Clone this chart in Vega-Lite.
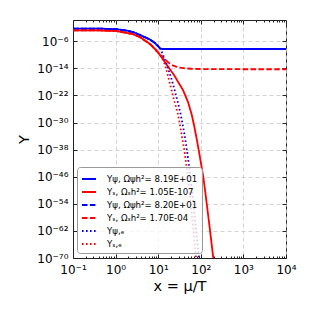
{
 "$schema": "https://vega.github.io/schema/vega-lite/v6.json",
 "width": 213,
 "height": 238,
 "autosize": {"type": "none"},
 "padding": {"left": 73, "top": 20, "right": 29, "bottom": 57},
 "background": "white",
 "config": {
  "view": {"stroke": "#222222", "strokeWidth": 1},
  "font": "DejaVu Sans",
  "axis": {"labelFont": "DejaVu Sans", "labelFontSize": 12, "labelColor": "#000000", "titleFont": "DejaVu Sans", "titleFontSize": 14.5, "titleFontWeight": "normal", "titleColor": "#000000", "tickColor": "#222222", "domainColor": "#222222", "gridColor": "#c8c8c8", "gridDash": [4, 3], "gridWidth": 0.8}
 },
 "data": {"values": [
  {"s": "Yψ, Ωψh²= 8.19E+01", "x": 0.1, "y": 6.03e-3},
  {"s": "Yψ, Ωψh²= 8.19E+01", "x": 0.4305, "y": 5.75e-3},
  {"s": "Yψ, Ωψh²= 8.19E+01", "x": 1.021, "y": 3.8e-3},
  {"s": "Yψ, Ωψh²= 8.19E+01", "x": 1.663, "y": 1.78e-3},
  {"s": "Yψ, Ωψh²= 8.19E+01", "x": 2.559, "y": 5.62e-4},
  {"s": "Yψ, Ωψh²= 8.19E+01", "x": 3.741, "y": 7.24e-5},
  {"s": "Yψ, Ωψh²= 8.19E+01", "x": 6.427, "y": 3.39e-6},
  {"s": "Yψ, Ωψh²= 8.19E+01", "x": 8.41, "y": 3.16e-7},
  {"s": "Yψ, Ωψh²= 8.19E+01", "x": 11.02, "y": 8.51e-9},
  {"s": "Yψ, Ωψh²= 8.19E+01", "x": 12.27, "y": 5.37e-9},
  {"s": "Yψ, Ωψh²= 8.19E+01", "x": 100, "y": 5.37e-9},
  {"s": "Yψ, Ωψh²= 8.19E+01", "x": 1000, "y": 5.37e-9},
  {"s": "Yψ, Ωψh²= 8.19E+01", "x": 10000, "y": 5.37e-9},

  {"s": "Yₛ, Ωₛh²= 1.05E-107", "x": 0.1, "y": 1.78e-3},
  {"s": "Yₛ, Ωₛh²= 1.05E-107", "x": 0.4305, "y": 1.66e-3},
  {"s": "Yₛ, Ωₛh²= 1.05E-107", "x": 1.021, "y": 1.12e-3},
  {"s": "Yₛ, Ωₛh²= 1.05E-107", "x": 1.663, "y": 3.98e-4},
  {"s": "Yₛ, Ωₛh²= 1.05E-107", "x": 2.559, "y": 1.26e-4},
  {"s": "Yₛ, Ωₛh²= 1.05E-107", "x": 3.741, "y": 1.78e-5},
  {"s": "Yₛ, Ωₛh²= 1.05E-107", "x": 6.427, "y": 1.58e-7},
  {"s": "Yₛ, Ωₛh²= 1.05E-107", "x": 8.87, "y": 2.82e-9},
  {"s": "Yₛ, Ωₛh²= 1.05E-107", "x": 11.02, "y": 8.91e-11},
  {"s": "Yₛ, Ωₛh²= 1.05E-107", "x": 15.24, "y": 2.51e-13},
  {"s": "Yₛ, Ωₛh²= 1.05E-107", "x": 23.5, "y": 1.1e-16},
  {"s": "Yₛ, Ωₛh²= 1.05E-107", "x": 38.19, "y": 4.07e-21},
  {"s": "Yₛ, Ωₛh²= 1.05E-107", "x": 50.12, "y": 1.17e-24},
  {"s": "Yₛ, Ωₛh²= 1.05E-107", "x": 61.09, "y": 2.51e-28},
  {"s": "Yₛ, Ωₛh²= 1.05E-107", "x": 69.18, "y": 2.0e-31},
  {"s": "Yₛ, Ωₛh²= 1.05E-107", "x": 81.47, "y": 5.0e-36},
  {"s": "Yₛ, Ωₛh²= 1.05E-107", "x": 95.72, "y": 5.0e-41},
  {"s": "Yₛ, Ωₛh²= 1.05E-107", "x": 115.6, "y": 3.98e-47},
  {"s": "Yₛ, Ωₛh²= 1.05E-107", "x": 137.4, "y": 1.58e-54},
  {"s": "Yₛ, Ωₛh²= 1.05E-107", "x": 164.4, "y": 1.58e-62},
  {"s": "Yₛ, Ωₛh²= 1.05E-107", "x": 196.3, "y": 1e-70},
  {"s": "Yₛ, Ωₛh²= 1.05E-107", "x": 215.3, "y": 2.51e-74},

  {"s": "Yψ, Ωψh²= 8.20E+01", "x": 0.1, "y": 6.03e-3},
  {"s": "Yψ, Ωψh²= 8.20E+01", "x": 0.4305, "y": 5.75e-3},
  {"s": "Yψ, Ωψh²= 8.20E+01", "x": 1.021, "y": 3.8e-3},
  {"s": "Yψ, Ωψh²= 8.20E+01", "x": 1.663, "y": 1.78e-3},
  {"s": "Yψ, Ωψh²= 8.20E+01", "x": 2.559, "y": 5.62e-4},
  {"s": "Yψ, Ωψh²= 8.20E+01", "x": 3.741, "y": 7.24e-5},
  {"s": "Yψ, Ωψh²= 8.20E+01", "x": 6.427, "y": 3.39e-6},
  {"s": "Yψ, Ωψh²= 8.20E+01", "x": 8.41, "y": 3.16e-7},
  {"s": "Yψ, Ωψh²= 8.20E+01", "x": 11.02, "y": 8.51e-9},
  {"s": "Yψ, Ωψh²= 8.20E+01", "x": 12.27, "y": 5.38e-9},
  {"s": "Yψ, Ωψh²= 8.20E+01", "x": 100, "y": 5.38e-9},
  {"s": "Yψ, Ωψh²= 8.20E+01", "x": 1000, "y": 5.38e-9},
  {"s": "Yψ, Ωψh²= 8.20E+01", "x": 10000, "y": 5.38e-9},

  {"s": "Yₛ, Ωₛh²= 1.70E-04", "x": 0.1, "y": 1.78e-3},
  {"s": "Yₛ, Ωₛh²= 1.70E-04", "x": 0.4305, "y": 1.66e-3},
  {"s": "Yₛ, Ωₛh²= 1.70E-04", "x": 1.021, "y": 1.12e-3},
  {"s": "Yₛ, Ωₛh²= 1.70E-04", "x": 1.663, "y": 3.98e-4},
  {"s": "Yₛ, Ωₛh²= 1.70E-04", "x": 2.559, "y": 1.26e-4},
  {"s": "Yₛ, Ωₛh²= 1.70E-04", "x": 3.741, "y": 1.78e-5},
  {"s": "Yₛ, Ωₛh²= 1.70E-04", "x": 6.427, "y": 1.58e-7},
  {"s": "Yₛ, Ωₛh²= 1.70E-04", "x": 8.87, "y": 2.82e-9},
  {"s": "Yₛ, Ωₛh²= 1.70E-04", "x": 11.02, "y": 8.91e-11},
  {"s": "Yₛ, Ωₛh²= 1.70E-04", "x": 12.5, "y": 2.0e-11},
  {"s": "Yₛ, Ωₛh²= 1.70E-04", "x": 14.45, "y": 5.0e-12},
  {"s": "Yₛ, Ωₛh²= 1.70E-04", "x": 16.5, "y": 1e-12},
  {"s": "Yₛ, Ωₛh²= 1.70E-04", "x": 18.92, "y": 2.51e-13},
  {"s": "Yₛ, Ωₛh²= 1.70E-04", "x": 22, "y": 7.94e-14},
  {"s": "Yₛ, Ωₛh²= 1.70E-04", "x": 26.18, "y": 3.63e-14},
  {"s": "Yₛ, Ωₛh²= 1.70E-04", "x": 33, "y": 1.78e-14},
  {"s": "Yₛ, Ωₛh²= 1.70E-04", "x": 42.6, "y": 1.05e-14},
  {"s": "Yₛ, Ωₛh²= 1.70E-04", "x": 60, "y": 7.94e-15},
  {"s": "Yₛ, Ωₛh²= 1.70E-04", "x": 95.7, "y": 6.61e-15},
  {"s": "Yₛ, Ωₛh²= 1.70E-04", "x": 1000, "y": 5.75e-15},
  {"s": "Yₛ, Ωₛh²= 1.70E-04", "x": 10000, "y": 5.75e-15},

  {"s": "Yψ,ₑ", "x": 0.1, "y": 6.03e-3},
  {"s": "Yψ,ₑ", "x": 0.4305, "y": 5.75e-3},
  {"s": "Yψ,ₑ", "x": 1.021, "y": 3.8e-3},
  {"s": "Yψ,ₑ", "x": 1.663, "y": 1.78e-3},
  {"s": "Yψ,ₑ", "x": 2.559, "y": 5.62e-4},
  {"s": "Yψ,ₑ", "x": 3.741, "y": 7.24e-5},
  {"s": "Yψ,ₑ", "x": 6.427, "y": 3.39e-6},
  {"s": "Yψ,ₑ", "x": 8.41, "y": 3.16e-7},
  {"s": "Yψ,ₑ", "x": 11.02, "y": 8.51e-9},
  {"s": "Yψ,ₑ", "x": 12.08, "y": 8.51e-10},
  {"s": "Yψ,ₑ", "x": 14.45, "y": 3.98e-12},
  {"s": "Yψ,ₑ", "x": 16.11, "y": 7.94e-14},
  {"s": "Yψ,ₑ", "x": 17.95, "y": 1.26e-15},
  {"s": "Yψ,ₑ", "x": 20.53, "y": 7.94e-18},
  {"s": "Yψ,ₑ", "x": 22.86, "y": 6.31e-20},
  {"s": "Yψ,ₑ", "x": 28.38, "y": 2.51e-24},
  {"s": "Yψ,ₑ", "x": 33.36, "y": 5.01e-28},
  {"s": "Yψ,ₑ", "x": 37.15, "y": 6.31e-31},
  {"s": "Yψ,ₑ", "x": 42.56, "y": 3.98e-35},
  {"s": "Yψ,ₑ", "x": 47.42, "y": 5.01e-39},
  {"s": "Yψ,ₑ", "x": 55.72, "y": 1.26e-45},
  {"s": "Yψ,ₑ", "x": 65.6, "y": 2.0e-53},
  {"s": "Yψ,ₑ", "x": 77.1, "y": 3.98e-62},
  {"s": "Yψ,ₑ", "x": 90.8, "y": 1e-70},
  {"s": "Yψ,ₑ", "x": 95.7, "y": 2.51e-74},

  {"s": "Yₛ,ₑ", "x": 0.1, "y": 1.78e-3},
  {"s": "Yₛ,ₑ", "x": 0.4305, "y": 1.66e-3},
  {"s": "Yₛ,ₑ", "x": 1.021, "y": 1.12e-3},
  {"s": "Yₛ,ₑ", "x": 1.663, "y": 3.98e-4},
  {"s": "Yₛ,ₑ", "x": 2.559, "y": 1.26e-4},
  {"s": "Yₛ,ₑ", "x": 3.741, "y": 1.78e-5},
  {"s": "Yₛ,ₑ", "x": 6.427, "y": 1.58e-7},
  {"s": "Yₛ,ₑ", "x": 8.87, "y": 1.91e-9},
  {"s": "Yₛ,ₑ", "x": 12.08, "y": 6.46e-11},
  {"s": "Yₛ,ₑ", "x": 14.45, "y": 1e-13},
  {"s": "Yₛ,ₑ", "x": 16.11, "y": 8.51e-16},
  {"s": "Yₛ,ₑ", "x": 17.95, "y": 3.72e-18},
  {"s": "Yₛ,ₑ", "x": 20.53, "y": 4.07e-21},
  {"s": "Yₛ,ₑ", "x": 24.13, "y": 1.45e-24},
  {"s": "Yₛ,ₑ", "x": 28.38, "y": 1.26e-27},
  {"s": "Yₛ,ₑ", "x": 31.62, "y": 1.26e-30},
  {"s": "Yₛ,ₑ", "x": 36.22, "y": 5.37e-35},
  {"s": "Yₛ,ₑ", "x": 41.43, "y": 3.89e-39},
  {"s": "Yₛ,ₑ", "x": 48.75, "y": 3.16e-46},
  {"s": "Yₛ,ₑ", "x": 56.75, "y": 1.32e-53},
  {"s": "Yₛ,ₑ", "x": 66.4, "y": 7.08e-62},
  {"s": "Yₛ,ₑ", "x": 77.1, "y": 9.55e-71},
  {"s": "Yₛ,ₑ", "x": 81.5, "y": 4.17e-73}
 ]},
 "layer": [
  {
   "mark": {"type": "line", "strokeWidth": 1.8, "clip": true},
   "encoding": {
    "x": {"field": "x", "type": "quantitative",
     "scale": {"type": "log", "domain": [0.1, 10000], "nice": false},
     "axis": {"orient": "bottom", "title": "x = μ/T",
      "values": [0.1,0.2,0.3,0.4,0.5,0.6,0.7,0.8,0.9,1,2,3,4,5,6,7,8,9,10,20,30,40,50,60,70,80,90,100,200,300,400,500,600,700,800,900,1000,2000,3000,4000,5000,6000,7000,8000,9000,10000],
      "labelExpr": "abs(log(datum.value)/LN10-round(log(datum.value)/LN10))<0.001 ? '10'+replace(replace(replace(replace(replace(replace(replace(replace(replace(replace(replace(toString(round(log(datum.value)/LN10)),'-','⁻'),regexp('0','g'),'⁰'),regexp('1','g'),'¹'),regexp('2','g'),'²'),regexp('3','g'),'³'),regexp('4','g'),'⁴'),regexp('5','g'),'⁵'),regexp('6','g'),'⁶'),regexp('7','g'),'⁷'),regexp('8','g'),'⁸'),regexp('9','g'),'⁹') : ''",
      "tickSize": {"condition": {"test": "abs(log(datum.value)/LN10-round(log(datum.value)/LN10))<0.001", "value": -4}, "value": -2},
      "gridOpacity": {"condition": {"test": "abs(log(datum.value)/LN10-round(log(datum.value)/LN10))<0.001", "value": 1}, "value": 0},
      "grid": true, "labelPadding": 10, "labelFlush": false, "labelOverlap": false,
      "titleX": 106.5, "titleY": 32, "titleBaseline": "alphabetic", "titleAlign": "center"}},
    "y": {"field": "y", "type": "quantitative",
     "scale": {"type": "log", "domain": [1e-70, 2], "nice": false},
     "axis": {"orient": "left", "title": "Y",
      "values": [1e-6, 1e-14, 1e-22, 1e-30, 1e-38, 1e-46, 1e-54, 1e-62, 1e-70],
      "labelExpr": "'10'+replace(replace(replace(replace(replace(replace(replace(replace(replace(replace(replace(toString(round(log(datum.value)/LN10)),'-','⁻'),regexp('0','g'),'⁰'),regexp('1','g'),'¹'),regexp('2','g'),'²'),regexp('3','g'),'³'),regexp('4','g'),'⁴'),regexp('5','g'),'⁵'),regexp('6','g'),'⁶'),regexp('7','g'),'⁷'),regexp('8','g'),'⁸'),regexp('9','g'),'⁹')",
      "tickSize": -4, "grid": true, "labelPadding": 9, "labelFlush": false, "labelOverlap": false,
      "titleX": -49, "titleY": 119, "titleAngle": 270, "titleBaseline": "middle", "titleAlign": "center"}},
    "color": {"field": "s", "type": "nominal",
     "scale": {"domain": ["Yψ, Ωψh²= 8.19E+01", "Yₛ, Ωₛh²= 1.05E-107", "Yψ, Ωψh²= 8.20E+01", "Yₛ, Ωₛh²= 1.70E-04", "Yψ,ₑ", "Yₛ,ₑ"],
      "range": ["#0000ff", "#ff0000", "#0000ff", "#ff0000", "#0000ff", "#ff0000"]},
     "legend": {"title": null, "orient": "none", "legendX": 4, "legendY": 147, "symbolType": "stroke", "symbolSize": 196, "symbolStrokeWidth": 1.8, "labelFontSize": 8.6, "labelFont": "DejaVu Sans", "labelColor": "#000000", "labelOffset": 10, "padding": 4, "rowPadding": 0, "fillColor": "rgba(255,255,255,0.8)", "strokeColor": "#999999", "cornerRadius": 3, "labelLimit": 200}},
    "strokeDash": {"field": "s", "type": "nominal",
     "scale": {"domain": ["Yψ, Ωψh²= 8.19E+01", "Yₛ, Ωₛh²= 1.05E-107", "Yψ, Ωψh²= 8.20E+01", "Yₛ, Ωₛh²= 1.70E-04", "Yψ,ₑ", "Yₛ,ₑ"],
      "range": [[1, 0], [1, 0], [5.5, 2.4], [5.5, 2.4], [1.6, 2.4], [1.6, 2.4]]},
     "legend": {"title": null, "orient": "none", "legendX": 4, "legendY": 147, "symbolType": "stroke", "symbolSize": 196, "symbolStrokeWidth": 1.8, "labelFontSize": 8.6, "labelFont": "DejaVu Sans", "labelColor": "#000000", "labelOffset": 10, "padding": 4, "rowPadding": 0, "fillColor": "rgba(255,255,255,0.8)", "strokeColor": "#999999", "cornerRadius": 3, "labelLimit": 200}}
   }
  },
  {
   "mark": {"type": "point", "opacity": 0, "clip": true},
   "encoding": {
    "x": {"field": "x", "type": "quantitative",
     "scale": {"type": "log", "domain": [0.1, 10000], "nice": false},
     "axis": {"orient": "top", "title": null, "labels": false, "domain": false, "grid": false,
      "values": [0.1,0.2,0.3,0.4,0.5,0.6,0.7,0.8,0.9,1,2,3,4,5,6,7,8,9,10,20,30,40,50,60,70,80,90,100,200,300,400,500,600,700,800,900,1000,2000,3000,4000,5000,6000,7000,8000,9000,10000],
      "tickSize": {"condition": {"test": "abs(log(datum.value)/LN10-round(log(datum.value)/LN10))<0.001", "value": -4}, "value": -2}}},
    "y": {"field": "y", "type": "quantitative",
     "scale": {"type": "log", "domain": [1e-70, 2], "nice": false},
     "axis": {"orient": "right", "title": null, "labels": false, "domain": false, "grid": false,
      "values": [1e-6, 1e-14, 1e-22, 1e-30, 1e-38, 1e-46, 1e-54, 1e-62, 1e-70],
      "tickSize": -4}}
   }
  }
 ],
 "resolve": {"axis": {"x": "independent", "y": "independent"}}
}
